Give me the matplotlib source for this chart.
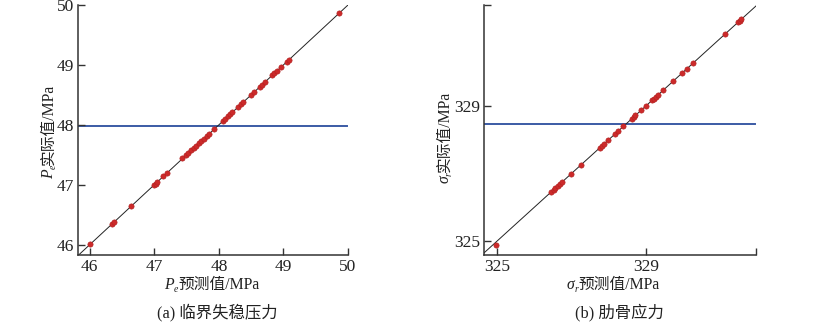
import matplotlib
matplotlib.use("Agg")
import matplotlib.pyplot as plt
from matplotlib.transforms import IdentityTransform

plt.rcParams['font.family'] = ['Liberation Serif', 'Noto Sans CJK SC']
plt.rcParams['axes.unicode_minus'] = False

# (a) critical buckling pressure, predicted values (actual ~ predicted)
p_pred = [46.0, 46.34, 46.37, 46.64, 47.0, 47.02, 47.04, 47.13, 47.2, 47.43,
          47.49, 47.53, 47.57, 47.61, 47.65, 47.69, 47.73, 47.77, 47.81, 47.85,
          47.92, 48.06, 48.1, 48.14, 48.18, 48.2, 48.3, 48.34, 48.38, 48.5,
          48.54, 48.63, 48.67, 48.72, 48.82, 48.86, 48.9, 48.96, 49.05, 49.08,
          49.86]
p_act = [46.01, 46.35, 46.38, 46.64, 47.0, 47.02, 47.05, 47.14, 47.2, 47.44,
         47.49, 47.53, 47.58, 47.61, 47.65, 47.7, 47.73, 47.77, 47.82, 47.85,
         47.93, 48.07, 48.1, 48.14, 48.18, 48.21, 48.3, 48.35, 48.38, 48.5,
         48.55, 48.63, 48.67, 48.72, 48.83, 48.86, 48.9, 48.96, 49.05, 49.08,
         49.87]
p_mean = 47.98

# (b) rib stress
s_pred = [324.98, 326.46, 326.52, 326.57, 326.63, 326.68, 326.75, 327.0, 327.25,
          327.76, 327.82, 327.87, 327.98, 328.16, 328.25, 328.4, 328.63, 328.68,
          328.72, 328.88, 329.01, 329.17, 329.22, 329.28, 329.33, 329.46, 329.73,
          329.98, 330.1, 330.27, 331.12, 331.48, 331.53, 331.57]
s_act = [324.9, 326.46, 326.52, 326.57, 326.63, 326.68, 326.75, 327.0, 327.25,
         327.76, 327.82, 327.87, 327.98, 328.16, 328.25, 328.4, 328.63, 328.68,
         328.72, 328.88, 329.01, 329.17, 329.22, 329.28, 329.33, 329.46, 329.73,
         329.98, 330.1, 330.27, 331.12, 331.48, 331.53, 331.57]
s_mean = 328.47

fig = plt.figure(figsize=(8.28, 3.3), dpi=100)
ax1 = fig.add_axes([0.0942, 0.2273, 0.3261, 0.7576])
ax2 = fig.add_axes([0.5845, 0.2273, 0.3285, 0.7576])
renderer = fig.canvas.get_renderer()
H = 330

TXT = '#222222'


def label_parts(sym, sub, rest):
    # italic symbol, small subscript, then CJK + unit text
    return [(sym, dict(fontsize=11.3, style='italic'), 0),
            (sub, dict(fontsize=7, style='italic'), 3),
            (rest, dict(fontsize=11.3), 0)]


def draw_label(cx, cy, pieces, vertical=False):
    # cx, cy in pixels from top-left; text runs along x (or upward if vertical)
    items = []
    for s, kw, sub in pieces:
        t = fig.text(0, 0, s, transform=IdentityTransform(), color=TXT,
                     rotation=90 if vertical else 0, rotation_mode='anchor',
                     ha='left', va='baseline', **kw)
        bb = t.get_window_extent(renderer)
        items.append((t, sub, bb.height if vertical else bb.width))
    total = sum(i[2] for i in items)
    pos = -total / 2
    for t, sub, L in items:
        if vertical:
            t.set_position((cx + sub, H - cy + pos))
        else:
            t.set_position((cx + pos, H - cy - sub))
        pos += L


panels = [
    (ax1, p_pred, p_act, p_mean, (45.82, 50.0), (45.83, 50.0),
     [46, 47, 48, 49, 50], ['46', '47', '48', '49', '50'],
     [46, 47, 48, 49, 50], ['46', '47', '48', '49', '50'],
     ('P', 'e', '预测值/MPa'), ('P', 'e', '实际值/MPa'),
     '(a) 临界失稳压力', (212, 289), (53, 131), 217),
    (ax2, s_pred, s_act, s_mean, (324.65, 331.96), (324.59, 331.99),
     [325, 329, 331.96], ['325', '329', ''],
     [325, 329, 331.99], ['325', '329', ''],
     ('σ', 'r', '预测值/MPa'), ('σ', 'r', '实际值/MPa'),
     '(b) 肋骨应力', (613, 289), (449, 137), 619),
]

for (ax, xp, ya, ym, xl, yl, xt, xtl, yt, ytl, xlab, ylab, cap,
     xlpos, ylpos, capx) in panels:
    lo = max(xl[0], yl[0])
    hi = min(xl[1], yl[1])
    ax.plot([lo, hi], [lo, hi], color='#222222', lw=0.7, zorder=2)
    ax.axhline(ym, xmin=0, xmax=0.995, color='#3b5ba5', lw=1.4, zorder=1)
    ax.plot(xp, ya, 'o', color='#cc2a2a', ms=3.8, mec='#b01e1e', mew=0.4, zorder=3)
    ax.set_xlim(*xl)
    ax.set_ylim(*yl)
    ax.set_xticks(xt)
    ax.set_xticklabels(xtl)
    ax.set_yticks(yt)
    ax.set_yticklabels(ytl)
    for s in ['top', 'right']:
        ax.spines[s].set_visible(False)
    for s in ['left', 'bottom']:
        ax.spines[s].set_color('#333333')
        ax.spines[s].set_linewidth(1.1)
    ax.tick_params(direction='in', length=5, width=1, colors='#333333',
                   labelcolor=TXT, labelsize=12.5, pad=3)
    draw_label(xlpos[0], xlpos[1], label_parts(*xlab))
    draw_label(ylpos[0], ylpos[1], label_parts(*ylab), vertical=True)
    fig.text(capx / 828, 1 - 312 / H, cap, ha='center', va='center',
             fontsize=11.8, color=TXT)

fig.savefig('out.png', dpi=100)
